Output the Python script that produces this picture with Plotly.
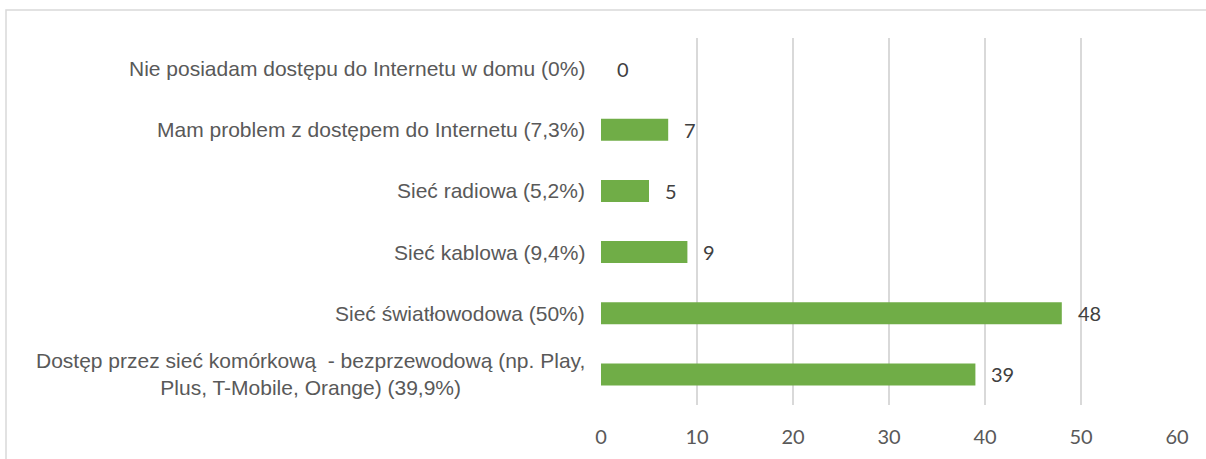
import plotly.graph_objects as go

categories = [
    "Dostęp przez sieć komórkową  - bezprzewodową (np. Play,<br>Plus, T-Mobile, Orange) (39,9%)",
    "Sieć światłowodowa (50%)",
    "Sieć kablowa (9,4%)",
    "Sieć radiowa (5,2%)",
    "Mam problem z dostępem do Internetu (7,3%)",
    "Nie posiadam dostępu do Internetu w domu (0%)",
]
values = [39, 48, 9, 5, 7, 0]
x_ticks = [0, 10, 20, 30, 40, 50, 60]

W, H = 1206, 459
ml, mr, mt, mb = 601, 29, 38, 54

fig = go.Figure()
fig.add_trace(go.Bar(
    x=values, y=categories, orientation="h",
    marker=dict(color="#70ad47", line=dict(width=0)),
    hoverinfo="skip",
))

annotations = []
for c, v in zip(categories, values):
    annotations.append(dict(
        x=v, y=c, xref="x", yref="y", text=str(v), showarrow=False,
        xanchor="left", yanchor="middle", xshift=14,
        font=dict(family="Lato", size=20, color="#404040"),
    ))
    annotations.append(dict(
        x=0, y=c, xref="paper", yref="y", text=c, showarrow=False,
        xanchor="right", yanchor="middle", align="center", xshift=-14,
        font=dict(family="Liberation Sans", size=21, color="#595959"),
    ))

pw = W - ml - mr
ph = H - mt - mb
def px_to_paper_x(p):
    return (p - ml) / pw
def px_to_paper_y(p):
    return 1 - (p - mt) / ph

fig.update_layout(
    width=W, height=H,
    margin=dict(l=ml, r=mr, t=mt, b=mb),
    plot_bgcolor="white", paper_bgcolor="white",
    bargap=0.64,
    showlegend=False,
    annotations=annotations,
    shapes=[dict(
        type="rect", xref="paper", yref="paper",
        x0=px_to_paper_x(6), x1=px_to_paper_x(1212),
        y0=px_to_paper_y(470), y1=px_to_paper_y(10),
        line=dict(color="#d9d9d9", width=1.5), layer="below",
    )],
    xaxis=dict(
        range=[0, 60], tickvals=x_ticks, showgrid=True,
        gridcolor="#d9d9d9", gridwidth=1.5, zeroline=False,
        showline=False, ticks="", ticklabelstandoff=18,
        tickfont=dict(family="Lato", size=20, color="#595959"),
        fixedrange=True,
    ),
    yaxis=dict(
        showticklabels=False, showgrid=False, zeroline=False,
        showline=False, ticks="", fixedrange=True,
    ),
)

fig.write_html("out.html", config={"displayModeBar": False},
               post_script="document.body.style.margin='0';")
